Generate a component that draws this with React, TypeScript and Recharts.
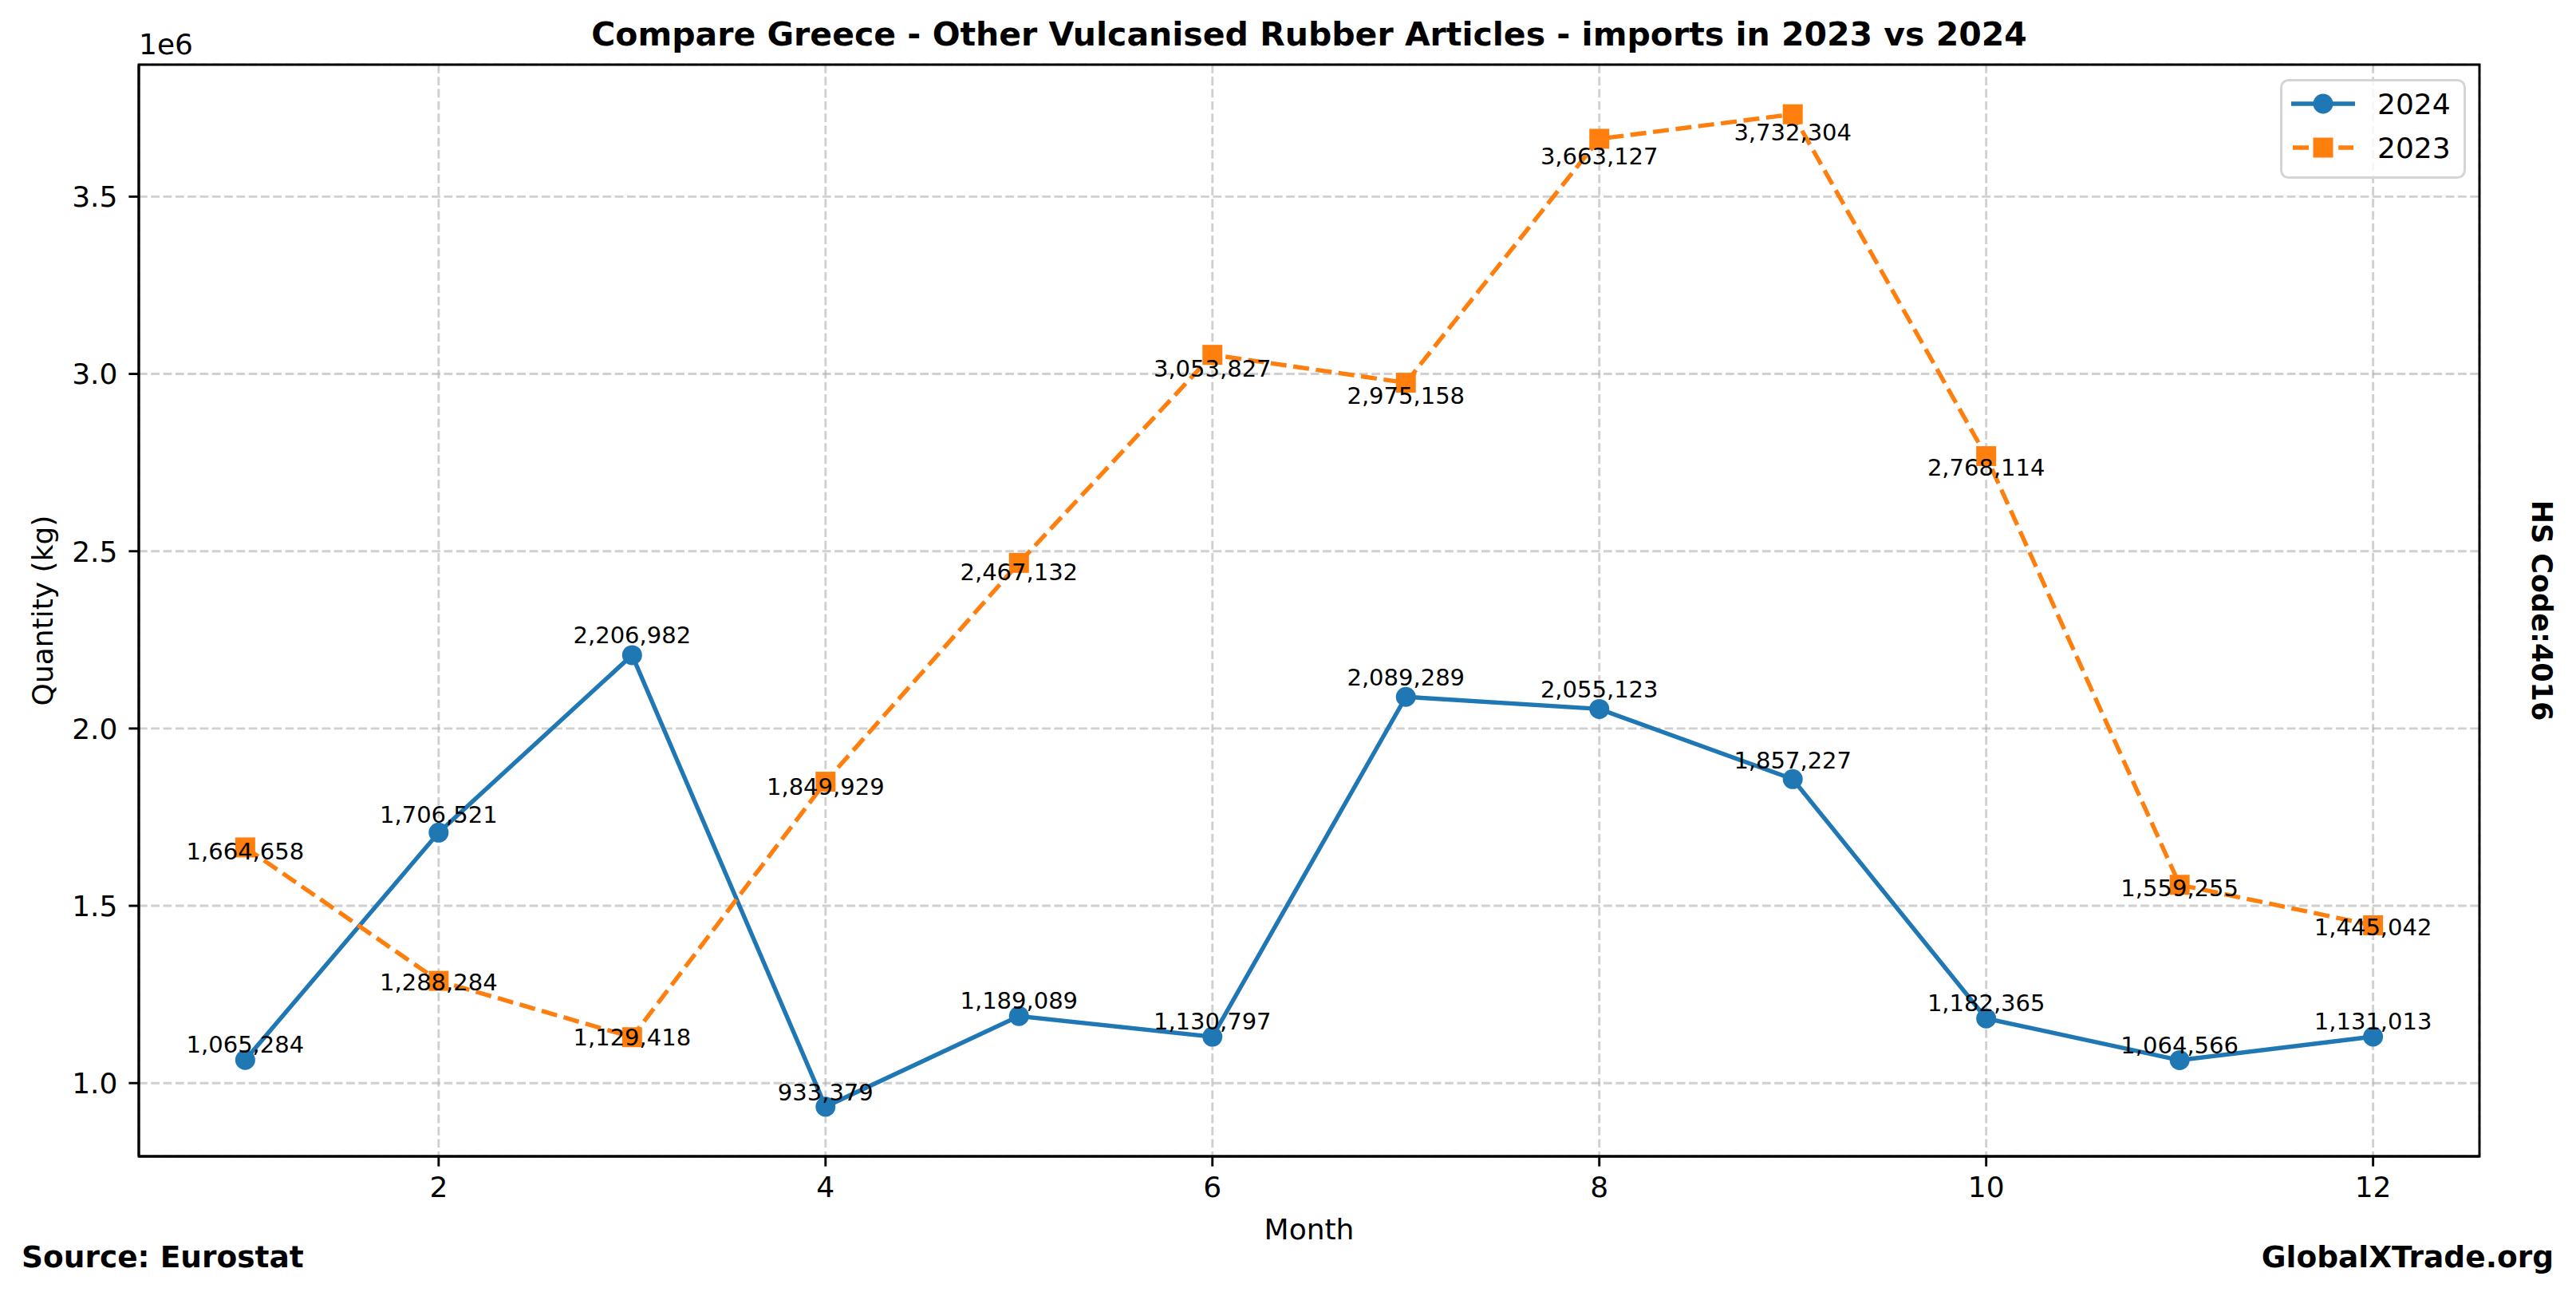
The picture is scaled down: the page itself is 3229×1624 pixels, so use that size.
import React from 'react';
import {
  LineChart,
  Line,
  XAxis,
  YAxis,
  CartesianGrid,
  Legend,
  LabelList,
  ReferenceArea,
} from 'recharts';

// Months on the x axis
const MONTHS = [1, 2, 3, 4, 5, 6, 7, 8, 9, 10, 11, 12];

// Import quantities (kg)
const IMPORTS_2024 = [
  1065284, 1706521, 2206982, 933379, 1189089, 1130797,
  2089289, 2055123, 1857227, 1182365, 1064566, 1131013,
];
const IMPORTS_2023 = [
  1664658, 1288284, 1129418, 1849929, 2467132, 3053827,
  2975158, 3663127, 3732304, 2768114, 1559255, 1445042,
];

const X_TICKS = [2, 4, 6, 8, 10, 12];
const Y_TICKS = [1000000, 1500000, 2000000, 2500000, 3000000, 3500000];

const FONT = '"DejaVu Sans", sans-serif';
const BLUE = '#1f77b4';
const ORANGE = '#ff7f0e';

const W = 3229;
const H = 1624;
const MARGIN = { top: 81, right: 121, left: 74, bottom: 115 };
const X_AXIS_H = 60;
const PLOT_H = H - MARGIN.top - MARGIN.bottom - X_AXIS_H;

const data = MONTHS.map((m, i) => ({
  month: m,
  y2024: IMPORTS_2024[i],
  y2023: IMPORTS_2023[i],
}));

// matplotlib-like 5% margins
const allVals = [...IMPORTS_2024, ...IMPORTS_2023];
const vMin = Math.min(...allVals);
const vMax = Math.max(...allVals);
const yPad = (vMax - vMin) * 0.05;
const Y_DOMAIN: [number, number] = [vMin - yPad, vMax + yPad];
const xPad = (MONTHS[MONTHS.length - 1] - MONTHS[0]) * 0.05;
const X_DOMAIN: [number, number] = [MONTHS[0] - xPad, MONTHS[MONTHS.length - 1] + xPad];
const PX_PER_UNIT = PLOT_H / (Y_DOMAIN[1] - Y_DOMAIN[0]);

const fmt = (v: number) => Number(v).toLocaleString('en-US');

// 2024 labels sit just above the point, 2023 labels at ~98% of the value
const labelAbove = (props: any) => {
  const { x, y, value, index } = props;
  const dy = 3 + 0.0125 * value * PX_PER_UNIT;
  return (
    <text key={`a-${index}`} x={x} y={y - dy} textAnchor="middle" fontSize={29} fontFamily={FONT} fill="#000">
      {fmt(value)}
    </text>
  );
};

const labelBelow = (props: any) => {
  const { x, y, value, index } = props;
  const dy = 0.02 * value * PX_PER_UNIT;
  return (
    <text key={`b-${index}`} x={x} y={y + dy} textAnchor="middle" fontSize={29} fontFamily={FONT} fill="#000">
      {fmt(value)}
    </text>
  );
};

const squareDot = (props: any) => {
  const { cx, cy, index } = props;
  if (cx == null || cy == null) return <g key={`sq-${index}`} />;
  return <rect key={`sq-${index}`} x={cx - 12.5} y={cy - 12.5} width={25} height={25} fill={ORANGE} />;
};

const renderLegend = () => (
  <svg width={234} height={126} style={{ display: 'block' }}>
    <rect x={1.5} y={1.5} width={230} height={122} rx={9} fill="#fff" fillOpacity={0.8} stroke="#d5d5d5" strokeWidth={3} />
    <line x1={14} x2={94} y1={31} y2={31} stroke={BLUE} strokeWidth={5.4} />
    <circle cx={54} cy={31} r={12.5} fill={BLUE} />
    <text x={122} y={44} fontSize={36} fontFamily={FONT} fill="#000">2024</text>
    <line x1={16} x2={92} y1={86} y2={86} stroke={ORANGE} strokeWidth={5.4} strokeDasharray="20 8.6" />
    <rect x={41.5} y={73.5} width={25} height={25} fill={ORANGE} />
    <text x={122} y={99} fontSize={36} fontFamily={FONT} fill="#000">2023</text>
  </svg>
);

const tickStyle = { fontSize: 36, fontFamily: FONT, fill: '#000' };

export default function App() {
  return (
    <div style={{ position: 'absolute', left: 0, top: 0, width: W, height: H, background: '#fff', fontFamily: FONT }}>
      <LineChart width={W} height={H} data={data} margin={MARGIN}>
        <CartesianGrid
          stroke="#b0b0b0"
          strokeOpacity={0.6}
          strokeWidth={2.9}
          strokeDasharray="10.7 4.6"
        />
        <XAxis
          dataKey="month"
          type="number"
          domain={X_DOMAIN}
          ticks={X_TICKS}
          allowDataOverflow
          height={X_AXIS_H}
          tick={tickStyle}
          tickSize={12.6}
          tickMargin={13}
          tickLine={{ stroke: '#000', strokeWidth: 2.9 }}
          axisLine={{ stroke: '#000', strokeWidth: 2.9 }}
        />
        <YAxis
          type="number"
          domain={Y_DOMAIN}
          ticks={Y_TICKS}
          allowDataOverflow
          width={100}
          tick={tickStyle}
          tickSize={12.6}
          tickMargin={14}
          tickFormatter={(v: number) => (v / 1e6).toFixed(1)}
          tickLine={{ stroke: '#000', strokeWidth: 2.9 }}
          axisLine={{ stroke: '#000', strokeWidth: 2.9 }}
        />
        <ReferenceArea
          x1={X_DOMAIN[0]}
          x2={X_DOMAIN[1]}
          y1={Y_DOMAIN[0]}
          y2={Y_DOMAIN[1]}
          fill="none"
          stroke="#000"
          strokeWidth={2.9}
          ifOverflow="visible"
        />
        <Legend
          layout="vertical"
          align="center"
          verticalAlign="middle"
          content={renderLegend}
          wrapperStyle={{ left: 2858, top: 99, width: 234, height: 126 }}
        />
        <Line
          type="linear"
          dataKey="y2024"
          name="2024"
          stroke={BLUE}
          strokeWidth={5.4}
          dot={{ r: 12.5, fill: BLUE, stroke: BLUE, strokeWidth: 0 }}
          activeDot={false}
          isAnimationActive={false}
        >
          <LabelList dataKey="y2024" content={labelAbove} />
        </Line>
        <Line
          type="linear"
          dataKey="y2023"
          name="2023"
          stroke={ORANGE}
          strokeWidth={5.4}
          strokeDasharray="20 8.6"
          dot={squareDot}
          activeDot={false}
          isAnimationActive={false}
        >
          <LabelList dataKey="y2023" content={labelBelow} />
        </Line>
      </LineChart>
      <svg
        width={W}
        height={H}
        style={{ position: 'absolute', left: 0, top: 0, pointerEvents: 'none' }}
      >
        <text x={1641} y={57} textAnchor="middle" fontSize={41} fontWeight="bold" fontFamily={FONT} fill="#000">
          Compare Greece - Other Vulcanised Rubber Articles - imports in 2023 vs 2024
        </text>
        <text x={174} y={68} fontSize={36} fontFamily={FONT} fill="#000">1e6</text>
        <text x={1641} y={1553} textAnchor="middle" fontSize={36} fontFamily={FONT} fill="#000">Month</text>
        <text
          x={53}
          y={765}
          textAnchor="middle"
          dominantBaseline="central"
          fontSize={36}
          fontFamily={FONT}
          fill="#000"
          transform="rotate(-90 53 765)"
        >
          Quantity (kg)
        </text>
        <text
          x={3186}
          y={765}
          textAnchor="middle"
          dominantBaseline="central"
          fontSize={35}
          fontWeight="bold"
          fontFamily={FONT}
          fill="#000"
          transform="rotate(90 3186 765)"
        >
          HS Code:4016
        </text>
        <text x={27} y={1588} fontSize={37.5} fontWeight="bold" fontFamily={FONT} fill="#000">Source: Eurostat</text>
        <text x={3201} y={1588} textAnchor="end" fontSize={37.5} fontWeight="bold" fontFamily={FONT} fill="#000">
          GlobalXTrade.org
        </text>
      </svg>
    </div>
  );
}
